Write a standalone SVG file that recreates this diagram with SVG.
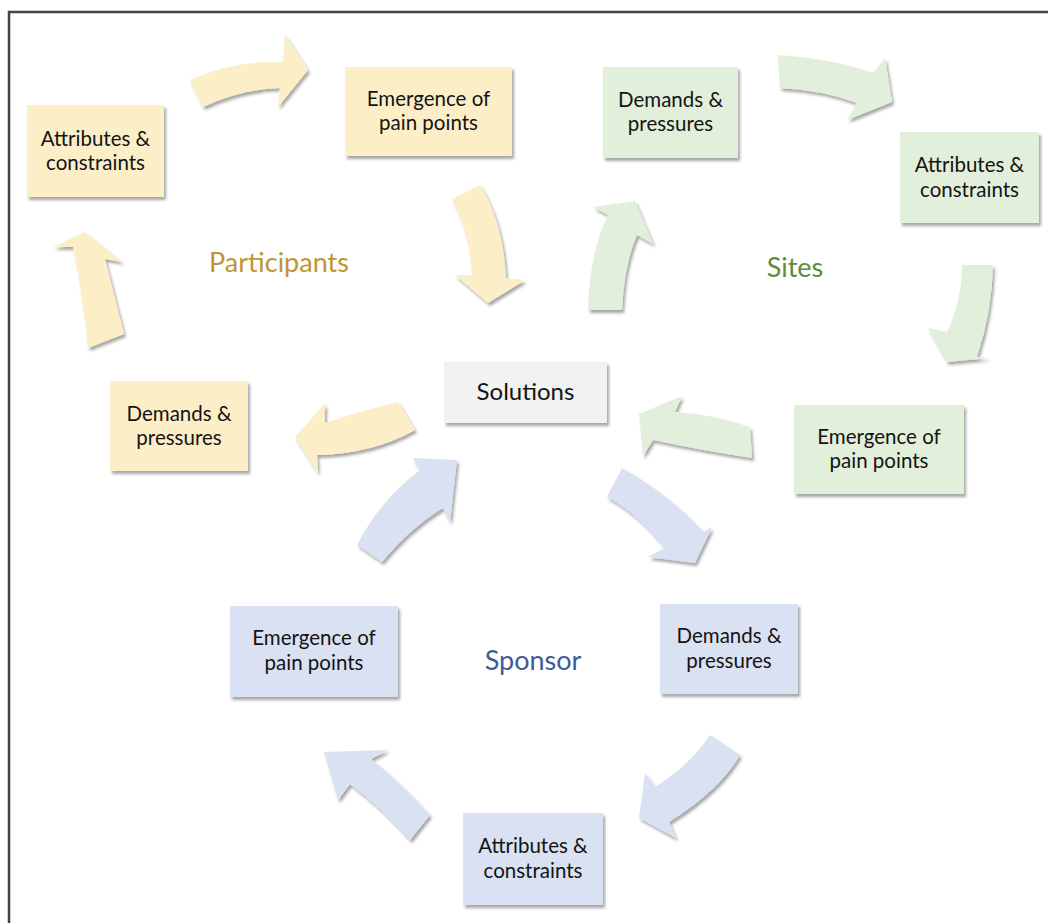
<svg xmlns="http://www.w3.org/2000/svg" width="1048" height="923" viewBox="0 0 1048 923">
<defs>
<filter id="sh" x="-20%" y="-20%" width="140%" height="140%">
<feDropShadow dx="2" dy="3" stdDeviation="1.8" flood-color="#000" flood-opacity="0.35"/>
</filter>
<style>
.box{filter:url(#sh);}
.y{fill:#FCEFC7;}
.g{fill:#E2EFDA;}
.b{fill:#D9E1F2;}
.s{fill:#F2F2F2;}
.t{font-family:Lato,"Liberation Sans",sans-serif;font-size:20.5px;fill:#141414;text-anchor:middle;}
.lab{font-family:Lato,"Liberation Sans",sans-serif;font-size:27px;text-anchor:middle;}
.arr{filter:url(#sh);}
</style>
</defs>
<rect width="1048" height="923" fill="#fff"/>
<path d="M9,923 V12 H1048" fill="none" stroke="#444" stroke-width="2.5"/>

<g id="connectors">
<path class="arr y" d="M190,80 Q233,60 283,62 L285,35 L308,70 L278,107 L280,88 Q242,89 203,107 Z"/>
<path class="arr y" d="M452,199 Q470,232 472,275 L455,275 L488,303 L525,280 L506,278 Q503,222 480,185 Z"/>
<path class="arr g" d="M588,310 Q590,250 608,215 L593,207 L635,201 L653,244 L637,235 Q624,265 622,310 Z"/>
<path class="arr g" d="M778,55 Q830,58 873,73 L885,58 L892,102 L847,120 L857,103 Q822,90 780,88 Z"/>
<path class="arr g" d="M962,265 Q962,300 947,332 L928,328 L947,362 L990,358 L977,357 Q992,312 993,265 Z"/>
<path class="arr g" d="M750,427 Q712,414 675,412 L682,396 L639,414 L643,456 L653,440 Q700,450 752,458 Z"/>
<path class="arr y" d="M398,402 Q360,411 325,423 L325,403 L295,437 L318,473 L317,455 Q372,454 415,430 Z"/>
<path class="arr y" d="M88,348 Q82,290 73,247 L53,247 L85,232 L122,262 L105,259 Q114,295 124,334 Z"/>
<path class="arr b" d="M622,468 Q670,495 703,532 L712,527 L695,563 L648,557 L665,548 Q640,515 607,497 Z"/>
<path class="arr b" d="M710,735 Q690,765 655,787 L645,773 L639,818 L676,838 L669,822 Q720,790 740,755 Z"/>
<path class="arr b" d="M430,815 Q400,782 371,759 L388,750 L324,752 L338,800 L350,784 Q382,808 410,840 Z"/>
<path class="arr b" d="M357,545 Q380,500 420,470 L413,458 L457,460 L450,522 L443,508 Q410,528 382,562 Z"/>
</g>

<g id="p-attributes">
<rect class="box y" x="27" y="105" width="137" height="92"/>
<text class="t" x="95.5" y="146">Attributes &amp;</text>
<text class="t" x="95.5" y="170">constraints</text>
</g>
<g id="p-emergence">
<rect class="box y" x="345" y="67" width="167" height="89"/>
<text class="t" x="428.5" y="106">Emergence of</text>
<text class="t" x="428.5" y="130">pain points</text>
</g>
<g id="p-demands">
<rect class="box y" x="110" y="381" width="138" height="90"/>
<text class="t" x="179" y="421">Demands &amp;</text>
<text class="t" x="179" y="445">pressures</text>
</g>
<g id="s-demands">
<rect class="box g" x="603" y="67" width="135" height="91"/>
<text class="t" x="670.5" y="107">Demands &amp;</text>
<text class="t" x="670.5" y="131">pressures</text>
</g>
<g id="s-attributes">
<rect class="box g" x="900" y="132" width="139" height="91"/>
<text class="t" x="969.5" y="172">Attributes &amp;</text>
<text class="t" x="969.5" y="197">constraints</text>
</g>
<g id="s-emergence">
<rect class="box g" x="794" y="405" width="170" height="89"/>
<text class="t" x="879" y="444">Emergence of</text>
<text class="t" x="879" y="468">pain points</text>
</g>
<g id="solutions">
<rect class="box s" x="444" y="362" width="163" height="61"/>
<text class="t" x="525.5" y="400" style="font-size:24px">Solutions</text>
</g>
<g id="sp-emergence">
<rect class="box b" x="230" y="606" width="168" height="91"/>
<text class="t" x="314" y="645">Emergence of</text>
<text class="t" x="314" y="670">pain points</text>
</g>
<g id="sp-demands">
<rect class="box b" x="660" y="604" width="138" height="90"/>
<text class="t" x="729" y="643">Demands &amp;</text>
<text class="t" x="729" y="668">pressures</text>
</g>
<g id="sp-attributes">
<rect class="box b" x="463" y="813" width="140" height="92"/>
<text class="t" x="533" y="853">Attributes &amp;</text>
<text class="t" x="533" y="878">constraints</text>
</g>

<g id="labels">
<text class="lab" x="279" y="272" fill="#BF9433">Participants</text>
<text class="lab" x="795" y="277" fill="#5E8C3E">Sites</text>
<text class="lab" x="533" y="670" fill="#3F5B97">Sponsor</text>
</g>
</svg>
